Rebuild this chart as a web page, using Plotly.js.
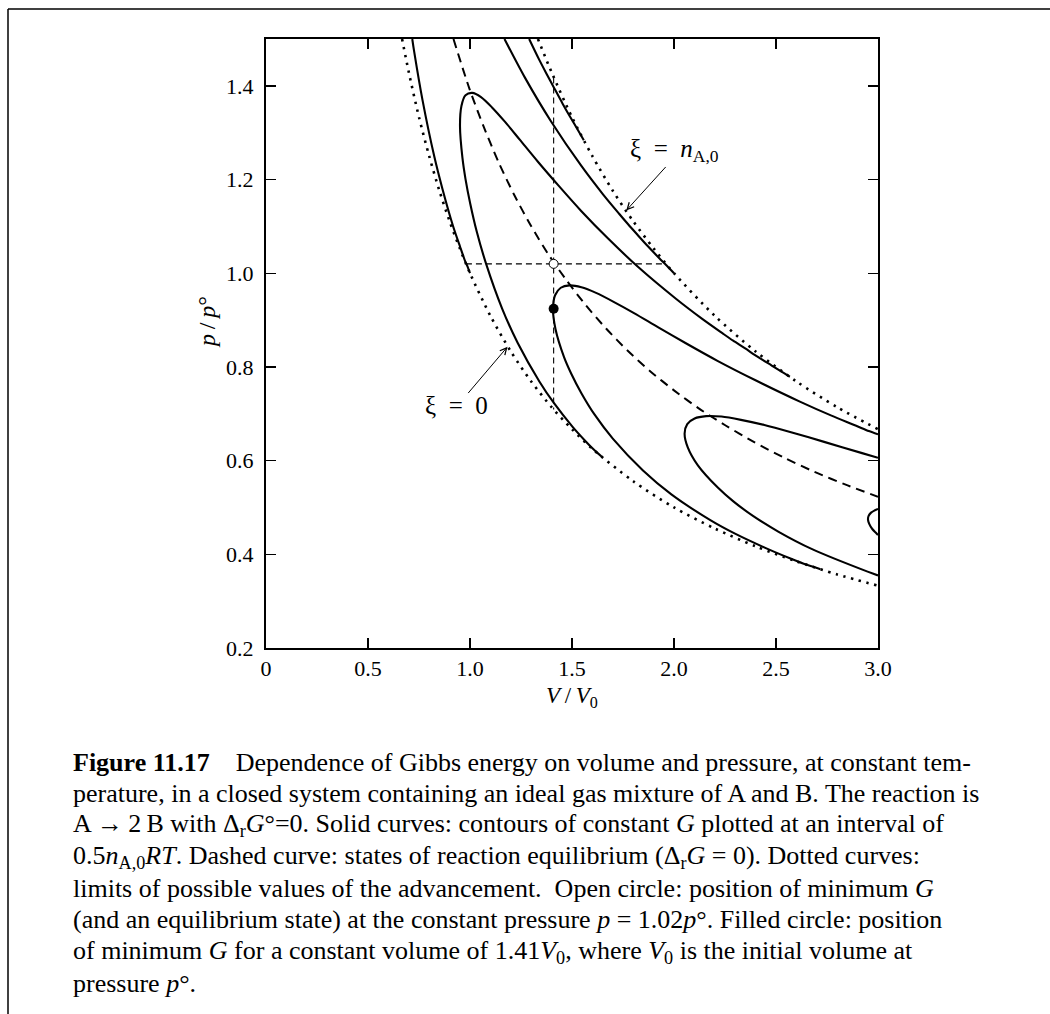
<!DOCTYPE html>
<html>
<head>
<meta charset="utf-8">
<script src="https://cdn.plot.ly/plotly-3.0.1.min.js"></script>
<style>html,body{margin:0;padding:0;background:#fff;}#chart{width:1050px;height:1014px;}</style>
</head>
<body>
<div id="chart"></div>
<script>
// ---- Axis ticks ----
const xTickVals = [0, 0.5, 1.0, 1.5, 2.0, 2.5, 3.0];
const xTickText = ['0', '0.5', '1.0', '1.5', '2.0', '2.5', '3.0'];
const yTickVals = [0.2, 0.4, 0.6, 0.8, 1.0, 1.2, 1.4];
const yTickText = ['0.2', '0.4', '0.6', '0.8', '1.0', '1.2', '1.4'];

// ---- Dotted limit curves (xi = 0 and xi = n_A,0) ----
const limitXi0V = [0.667, 0.7, 0.75, 0.8, 0.85, 0.9, 0.95, 1.0, 1.1, 1.2, 1.3, 1.4, 1.5, 1.6, 1.8, 2.0, 2.2, 2.4, 2.6, 2.8, 3.0];
const limitXi0P = [1.5, 1.429, 1.333, 1.25, 1.176, 1.111, 1.053, 1.0, 0.909, 0.833, 0.769, 0.714, 0.667, 0.625, 0.556, 0.5, 0.455, 0.417, 0.385, 0.357, 0.333];
const limitXi1V = [1.333, 1.4, 1.5, 1.6, 1.7, 1.8, 1.9, 2.0, 2.2, 2.4, 2.6, 2.8, 3.0];
const limitXi1P = [1.5, 1.429, 1.333, 1.25, 1.176, 1.111, 1.053, 1.0, 0.909, 0.833, 0.769, 0.714, 0.667];

// ---- Dashed curve: reaction equilibrium ----
const equilV = [0.919, 0.997, 1.067, 1.140, 1.217, 1.298, 1.383, 1.473, 1.567, 1.667, 1.772, 1.883, 2.0, 2.123, 2.253, 2.391, 2.536, 2.689, 2.851, 3.0];
const equilP = [1.500, 1.394, 1.313, 1.237, 1.167, 1.102, 1.041, 0.985, 0.932, 0.882, 0.835, 0.791, 0.75, 0.711, 0.675, 0.640, 0.607, 0.576, 0.547, 0.523];

// ---- Solid contours of constant G (interval 0.5 n_A,0 RT) ----
const gPlus05V = [1.290, 1.339, 1.375, 1.413, 1.454, 1.500, 1.526, 1.558];
const gPlus05P = [1.500, 1.456, 1.426, 1.395, 1.362, 1.327, 1.308, 1.284];

const gZeroLeftV = [0.717, 0.726, 0.767, 0.825, 0.865, 0.916, 0.951, 0.976, 0.987, 1.0];
const gZeroLeftP = [1.500, 1.474, 1.370, 1.249, 1.180, 1.102, 1.057, 1.026, 1.015, 1.0];

const gZeroRightV = [1.169, 1.270, 1.396, 1.546, 1.651, 1.731, 1.774, 1.821, 1.871, 1.928, 1.960, 2.0];
const gZeroRightP = [1.500, 1.417, 1.325, 1.229, 1.169, 1.127, 1.105, 1.082, 1.058, 1.032, 1.018, 1.0];

const gMinus05V = [1.649, 1.626, 1.608, 1.563, 1.503, 1.411, 1.340, 1.234, 1.158, 1.079, 1.033, 1.001, 0.978, 0.963, 0.951, 0.958, 0.978, 1.011, 1.054, 1.108, 1.172, 1.246, 1.333, 1.432, 1.545, 1.677, 1.830, 2.011, 2.140, 2.237, 2.290, 2.347, 2.409, 2.479, 2.519, 2.568];
const gMinus05P = [0.607, 0.616, 0.623, 0.643, 0.672, 0.723, 0.769, 0.851, 0.924, 1.020, 1.089, 1.149, 1.201, 1.246, 1.314, 1.357, 1.380, 1.385, 1.376, 1.354, 1.323, 1.284, 1.238, 1.188, 1.133, 1.074, 1.011, 0.945, 0.902, 0.872, 0.856, 0.840, 0.822, 0.803, 0.792, 0.779];

const gMinus10V = [2.718, 2.679, 2.648, 2.571, 2.467, 2.304, 2.178, 1.987, 1.848, 1.700, 1.611, 1.546, 1.497, 1.461, 1.419, 1.407, 1.417, 1.445, 1.488, 1.546, 1.618, 1.704, 1.804, 1.921, 2.056, 2.213, 2.397, 2.617, 2.772, 2.890, 2.955, 3.0];
const gMinus10P = [0.368, 0.374, 0.378, 0.391, 0.410, 0.443, 0.473, 0.528, 0.579, 0.647, 0.698, 0.744, 0.785, 0.821, 0.881, 0.924, 0.953, 0.969, 0.974, 0.970, 0.958, 0.939, 0.915, 0.885, 0.851, 0.813, 0.772, 0.726, 0.696, 0.675, 0.663, 0.656];

const gMinus15V = [3.0, 2.949, 2.677, 2.513, 2.387, 2.291, 2.216, 2.117, 2.067, 2.052, 2.065, 2.101, 2.158, 2.233, 2.328, 2.443, 2.578, 2.736, 2.922, 3.0];
const gMinus15P = [0.355, 0.363, 0.411, 0.448, 0.482, 0.513, 0.542, 0.590, 0.629, 0.658, 0.678, 0.690, 0.695, 0.694, 0.687, 0.676, 0.660, 0.640, 0.616, 0.606];

const gMinus20V = [3.0, 2.992, 2.972, 2.957, 2.951, 2.954, 2.966, 2.985, 3.0];
const gMinus20P = [0.441, 0.445, 0.454, 0.465, 0.474, 0.482, 0.489, 0.494, 0.497];

// ---- Guide lines and special points ----
const constPLineV = [0.98, 1.96];
const constPLineP = [1.02, 1.02];
const constVLineV = [1.41, 1.41];
const constVLineP = [1.418, 0.709];
const openPointV = [1.41];
const openPointP = [1.02];
const filledPointV = [1.41];
const filledPointP = [0.924];

// ---- Labels ----
const labelXi1 = {text: 'ξ\u2002=\u2002<i>n</i><sub>A,0</sub>', V: 2.0, P: 1.262, headV: 1.766, headP: 1.134, tailV: 1.966, tailP: 1.230};
const labelXi0 = {text: 'ξ\u2002=\u20020', V: 0.933, P: 0.718, headV: 1.184, headP: 0.843, tailV: 0.985, tailP: 0.741};

const captionLines = [
  '<b>Figure 11.17</b>\u2003Dependence of Gibbs energy on volume and pressure, at constant tem-',
  'perature, in a closed system containing an ideal gas mixture of A and B. The reaction is',
  'A\u2009→\u20092\u2009B with Δ<sub>r</sub><i>G</i>°=0. Solid curves: contours of constant <i>G</i> plotted at an interval of',
  '0.5<i>n</i><sub>A,0</sub><i>RT</i>. Dashed curve: states of reaction equilibrium (Δ<sub>r</sub><i>G</i> = 0). Dotted curves:',
  'limits of possible values of the advancement.  Open circle: position of minimum <i>G</i>',
  '(and an equilibrium state) at the constant pressure <i>p</i> = 1.02<i>p</i>°. Filled circle: position',
  'of minimum <i>G</i> for a constant volume of 1.41<i>V</i><sub>0</sub>, where <i>V</i><sub>0</sub> is the initial volume at',
  'pressure <i>p</i>°.'
];

// ---- Build ----
const FONT = 'Liberation Serif, Times New Roman, serif';
const W = 1050, H = 1014, ML = 266, MR = 172, MT = 39, MB = 366;
const PW = W - ML - MR, PH = H - MT - MB;
const px = x => (x - ML) / PW;
const py = y => (H - MB - y) / PH;

function line(V, P, opts) {
  return Object.assign({x: V, y: P, type: 'scatter', mode: 'lines', hoverinfo: 'skip', showlegend: false,
    line: Object.assign({color: '#000', width: 2.1, shape: 'spline', smoothing: 0.8}, opts || {})});
}

const traces = [
  line(limitXi0V, limitXi0P, {dash: '2.4px,5.6px', width: 2.6}),
  line(limitXi1V, limitXi1P, {dash: '2.4px,5.6px', width: 2.6}),
  line(equilV, equilP, {dash: '9px,6px', width: 2}),
  line(constPLineV, constPLineP, {dash: '6px,4px', width: 1.1, shape: 'linear'}),
  line(constVLineV, constVLineP, {dash: '6px,4px', width: 1.1, shape: 'linear'}),
  line(gPlus05V, gPlus05P),
  line(gZeroLeftV, gZeroLeftP),
  line(gZeroRightV, gZeroRightP),
  line(gMinus05V, gMinus05P),
  line(gMinus10V, gMinus10P),
  line(gMinus15V, gMinus15P),
  line(gMinus20V, gMinus20P),
  {x: openPointV, y: openPointP, type: 'scatter', mode: 'markers', hoverinfo: 'skip', showlegend: false,
   marker: {symbol: 'circle', size: 9, color: '#fff', line: {color: '#000', width: 1}}},
  {x: filledPointV, y: filledPointP, type: 'scatter', mode: 'markers', hoverinfo: 'skip', showlegend: false,
   marker: {symbol: 'circle', size: 10, color: '#000', line: {color: '#000', width: 0}}}
];

const annotations = [];
[labelXi1, labelXi0].forEach(l => {
  annotations.push({x: l.V, y: l.P, xref: 'x', yref: 'y', text: l.text, showarrow: false,
    font: {family: FONT, size: 25, color: '#000'}, xanchor: 'center', yanchor: 'middle'});
  annotations.push({x: l.headV, y: l.headP, xref: 'x', yref: 'y', ax: l.tailV, ay: l.tailP, axref: 'x', ayref: 'y',
    text: '', showarrow: true, arrowhead: 5, arrowsize: 1.3, arrowwidth: 1, arrowcolor: '#000', standoff: 0});
});
// axis titles
annotations.push({x: px(571.5), y: py(697), xref: 'paper', yref: 'paper', showarrow: false,
  text: '<i>V</i>\u2009/\u2009<i>V</i><sub>0</sub>', font: {family: FONT, size: 23, color: '#000'},
  xanchor: 'center', yanchor: 'middle'});
annotations.push({x: px(207), y: py(322), xref: 'paper', yref: 'paper', showarrow: false, textangle: -90,
  text: '<i>p</i>\u2009/\u2009<i>p</i>°', font: {family: FONT, size: 24, color: '#000'},
  xanchor: 'center', yanchor: 'middle'});
// caption
captionLines.forEach((t, i) => {
  annotations.push({x: px(71), y: py(762 + i * 31.6), xref: 'paper', yref: 'paper', showarrow: false,
    text: t, font: {family: FONT, size: 26, color: '#000'}, xanchor: 'left', yanchor: 'middle', align: 'left'});
});

const shapes = [
  {type: 'line', xref: 'paper', yref: 'paper', x0: px(8), x1: px(1052), y0: py(9), y1: py(9), line: {color: '#000', width: 1.5}},
  {type: 'line', xref: 'paper', yref: 'paper', x0: px(8), x1: px(8), y0: py(9), y1: py(1016), line: {color: '#000', width: 1.5}}
];

const axisCommon = {showgrid: false, zeroline: false, showline: true, linecolor: '#000', linewidth: 2,
  mirror: 'ticks', ticks: 'inside', ticklen: 10, tickwidth: 1.3, tickcolor: '#000',
  tickfont: {family: FONT, size: 22, color: '#000'}, fixedrange: true};

const layout = {
  width: W, height: H,
  margin: {l: ML, r: MR, t: MT, b: MB, pad: 0},
  paper_bgcolor: '#fff', plot_bgcolor: '#fff',
  showlegend: false,
  xaxis: Object.assign({}, axisCommon, {range: [0, 3], tickmode: 'array', tickvals: xTickVals, ticktext: xTickText}),
  yaxis: Object.assign({}, axisCommon, {range: [0.2, 1.5], tickmode: 'array', tickvals: yTickVals, ticktext: yTickText, ticklabelstandoff: 6}),
  annotations: annotations,
  shapes: shapes
};

Plotly.newPlot('chart', traces, layout, {displayModeBar: false, staticPlot: true});
</script>
</body>
</html>
